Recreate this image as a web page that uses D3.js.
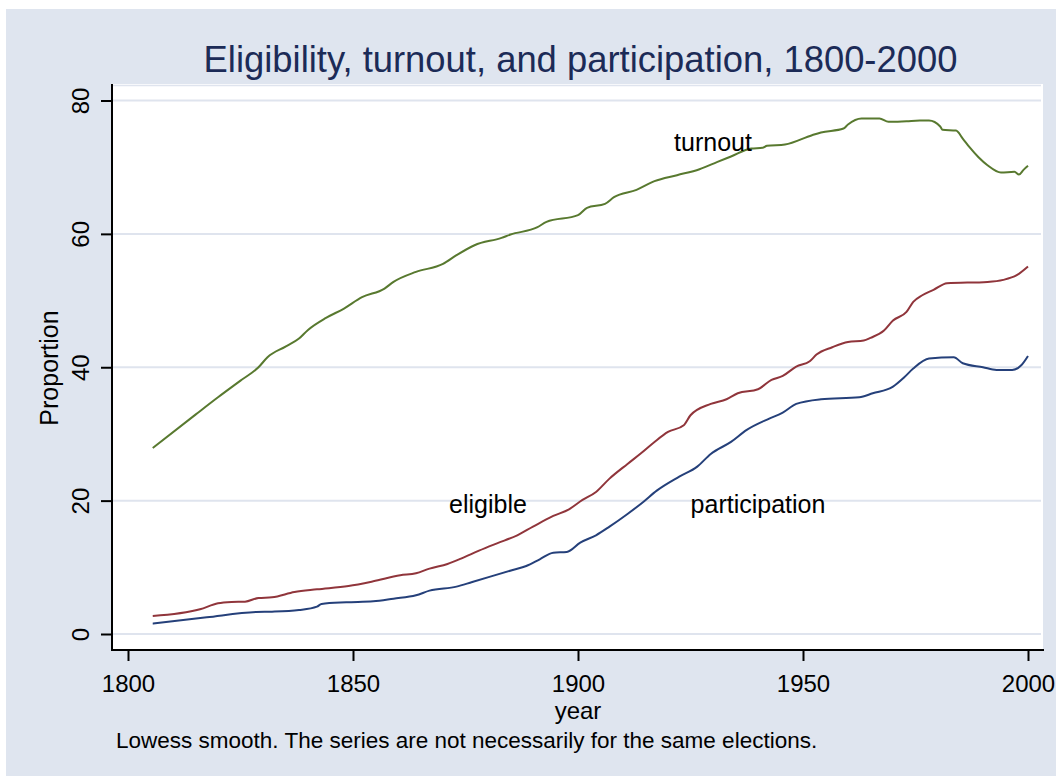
<!DOCTYPE html>
<html>
<head>
<meta charset="utf-8">
<script src="https://cdn.jsdelivr.net/npm/d3@7"></script>
<style>
  html, body { margin: 0; padding: 0; background: #ffffff; }
  svg { display: block; }
  text { font-family: "Liberation Sans", Arial, Helvetica, sans-serif; }
</style>
</head>
<body>
<svg id="chart" width="1056" height="776"></svg>
<script>
// Lowess-smoothed series, percent of population
const turnoutYear = [1805.5,1815,1820,1825,1829,1831,1835,1838,1840,1844,1848,1852,1857,1859,1864,1870,1873,1877,1883,1885,1891,1893,1900,1902,1906,1908,1913,1917,1922,1927,1931,1934,1938.5,1941,1942,1946,1952,1954,1959,1960,1963,1967,1969,1973,1976,1978,1980.5,1981,1984,1985.5,1987,1989,1991,1994,1997,1998,1999,2000];
const turnoutVal  = [27.9,32.9,35.5,38.0,40.0,41.5,43.1,44.3,45.6,47.4,48.8,50.5,51.8,52.8,54.3,55.5,56.8,58.3,59.4,59.9,61.0,61.8,62.8,63.9,64.5,65.5,66.6,67.9,68.8,69.7,70.8,71.6,72.8,72.9,73.2,73.4,74.8,75.2,75.8,76.4,77.3,77.3,76.8,76.9,77.0,77.0,76.1,75.6,75.5,74.3,73.0,71.5,70.3,69.2,69.3,68.9,69.6,70.2];

const eligibleYear = [1805.5,1816,1820,1823,1826,1829,1832,1837,1842,1849,1854.5,1860.5,1864,1867,1871,1874,1878,1882,1886.5,1890,1894.5,1898,1901,1904,1907,1911,1914,1917,1920,1923.5,1925,1929.5,1933,1935.5,1940,1943,1945.5,1948.5,1951.5,1953,1956.5,1960,1963.5,1965,1968,1970,1973,1974.5,1976.5,1979,1982,1991,1994.5,1997.5,2000];
const eligibleVal  = [2.7,3.7,4.6,4.8,4.85,5.4,5.5,6.3,6.7,7.2,7.9,8.8,9.1,9.8,10.5,11.3,12.5,13.6,14.8,16.1,17.7,18.7,20.1,21.3,23.3,25.5,27.1,28.8,30.3,31.3,32.8,34.5,35.2,36.1,36.7,38.1,38.7,40.1,40.9,41.9,43.0,43.8,44.0,44.4,45.5,47.0,48.3,49.8,50.8,51.6,52.6,52.8,53.1,53.8,55.1];

const participationYear = [1805.5,1817.5,1828.5,1832,1838,1842,1843,1848.5,1854.5,1859,1864,1867,1873,1876.5,1880.5,1885.5,1888.5,1891.5,1894.5,1897.5,1900.5,1904,1907,1911,1914.5,1917.5,1922.5,1926.5,1929.5,1934,1937.5,1942.5,1945.5,1948.5,1954,1962.5,1965.5,1970,1972.5,1974.5,1978,1983.5,1985.5,1990,1993,1996.5,1998.5,2000];
const participationVal  = [1.55,2.5,3.3,3.35,3.6,4.1,4.5,4.75,4.9,5.3,5.8,6.5,7.1,7.8,8.6,9.6,10.2,11.2,12.2,12.3,13.7,14.8,16.1,18.0,19.8,21.5,23.6,25.1,27.0,28.8,30.6,32.3,33.2,34.5,35.2,35.5,36.1,37.1,38.5,39.8,41.3,41.5,40.6,40.0,39.6,39.6,40.3,41.7];

// Axis ticks
const xTicks = [1800, 1850, 1900, 1950, 2000];
const yTicks = [0, 20, 40, 60, 80];

// In-plot series labels: [text, year, value]
const seriesLabels = [
  ["turnout", 1930, 73.8],
  ["eligible", 1880, 19.4],
  ["participation", 1940, 19.4]
];

const titleText = "Eligibility, turnout, and participation, 1800-2000";
const xTitle = "year";
const yTitle = "Proportion";
const noteText = "Lowess smooth. The series are not necessarily for the same elections.";

// ---- layout ----
const W = 1056, H = 776;
const plot = { left: 112, right: 1043, top: 84, bottom: 650 };
const bg = "#dfe5ef";
const gridColor = "#dfe4ee";
const colors = { turnout: "#58792f", eligible: "#90353b", participation: "#25407a" };

const svg = d3.select("#chart");

// graph region
svg.append("rect").attr("x", 0).attr("y", 0).attr("width", W).attr("height", H).attr("fill", "#ffffff");
svg.append("rect").attr("x", 6).attr("y", 9).attr("width", W - 6).attr("height", H - 9).attr("fill", bg);

// plot region
svg.append("rect")
  .attr("x", plot.left).attr("y", plot.top)
  .attr("width", plot.right - plot.left).attr("height", plot.bottom - plot.top)
  .attr("fill", "#ffffff");
// faint plot-region outline
svg.append("line")
  .attr("x1", plot.left).attr("x2", plot.right - 2)
  .attr("y1", plot.top + 1.5).attr("y2", plot.top + 1.5)
  .attr("stroke", gridColor).attr("stroke-width", 1.5);

const x = d3.scaleLinear().domain([1800, 2000]).range([128, 1028]);
const y = d3.scaleLinear().domain([0, 80]).range([634, 100.5]);

// gridlines
svg.append("g").selectAll("line").data(yTicks).join("line")
  .attr("x1", plot.left).attr("x2", plot.right - 2)
  .attr("y1", d => y(d)).attr("y2", d => y(d))
  .attr("stroke", gridColor).attr("stroke-width", 2);

// series
const line = d3.line().x(d => x(d[0])).y(d => y(d[1])).curve(d3.curveMonotoneX);
const series = [
  { key: "turnout", years: turnoutYear, vals: turnoutVal },
  { key: "eligible", years: eligibleYear, vals: eligibleVal },
  { key: "participation", years: participationYear, vals: participationVal }
];
svg.append("g").selectAll("path").data(series).join("path")
  .attr("d", s => line(s.years.map((yr, i) => [yr, s.vals[i]])))
  .attr("fill", "none")
  .attr("stroke", s => colors[s.key])
  .attr("stroke-width", 2)
  .attr("stroke-linejoin", "round");

// series labels
svg.append("g").selectAll("text").data(seriesLabels).join("text")
  .attr("x", d => x(d[1])).attr("y", d => y(d[2]))
  .attr("dy", "0.35em")
  .attr("text-anchor", "middle")
  .attr("font-size", 25)
  .attr("fill", "#000")
  .text(d => d[0]);

// y axis
const yAxis = svg.append("g")
  .attr("transform", `translate(${plot.left},0)`)
  .call(d3.axisLeft(y).tickValues(yTicks).tickSize(11).tickSizeOuter(0).tickFormat(d3.format("d")));
yAxis.select(".domain").remove();
yAxis.selectAll(".tick line").attr("stroke", "#000").attr("stroke-width", 2);
yAxis.selectAll(".tick text")
  .attr("x", 0).attr("dy", 0)
  .attr("text-anchor", "middle")
  .attr("transform", "translate(-23,0) rotate(-90)")
  .attr("font-size", 24)
  .attr("font-family", "Liberation Sans, Arial, sans-serif")
  .attr("fill", "#000");

// x axis
const xAxis = svg.append("g")
  .attr("transform", `translate(0,${plot.bottom})`)
  .call(d3.axisBottom(x).tickValues(xTicks).tickSize(11).tickSizeOuter(0).tickFormat(d3.format("d")));
xAxis.select(".domain").remove();
xAxis.selectAll(".tick line").attr("stroke", "#000").attr("stroke-width", 2);
xAxis.selectAll(".tick text")
  .attr("y", 42).attr("dy", 0)
  .attr("font-size", 24)
  .attr("font-family", "Liberation Sans, Arial, sans-serif")
  .attr("fill", "#000");

// axis lines spanning the plot region
svg.append("line")
  .attr("x1", plot.left).attr("x2", plot.left)
  .attr("y1", plot.top).attr("y2", plot.bottom + 1)
  .attr("stroke", "#000").attr("stroke-width", 2);
svg.append("line")
  .attr("x1", plot.left - 1).attr("x2", plot.right + 1)
  .attr("y1", plot.bottom).attr("y2", plot.bottom)
  .attr("stroke", "#000").attr("stroke-width", 2);

// titles
svg.append("text")
  .attr("x", 580.5).attr("y", 72)
  .attr("text-anchor", "middle")
  .attr("font-size", 36.4)
  .attr("fill", "#1c2b57")
  .text(titleText);

svg.append("text")
  .attr("x", 578).attr("y", 719)
  .attr("text-anchor", "middle")
  .attr("font-size", 24)
  .attr("fill", "#000")
  .text(xTitle);

svg.append("text")
  .attr("transform", "translate(58,368) rotate(-90)")
  .attr("text-anchor", "middle")
  .attr("font-size", 25)
  .attr("fill", "#000")
  .text(yTitle);

svg.append("text")
  .attr("x", 116).attr("y", 748)
  .attr("font-size", 22.5)
  .attr("fill", "#000")
  .text(noteText);
</script>
</body>
</html>
